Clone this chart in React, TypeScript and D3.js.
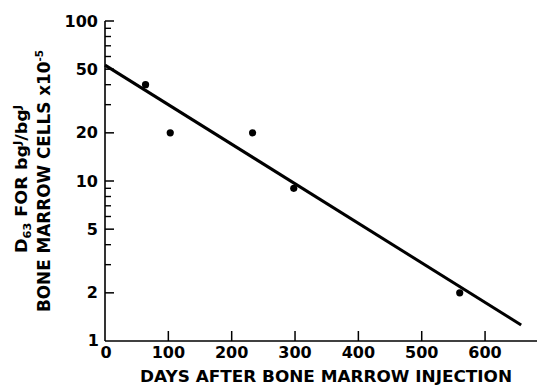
import React from "react";
import * as d3 from "d3";

const days = [64, 103, 233, 298, 560];
const values = [40, 20, 20, 9, 2];
const fitDays = [0, 657];
const fitValues = [53, 1.26];
const xTickValues = [0, 100, 200, 300, 400, 500, 600];
const yMajorTicks = [1, 2, 5, 10, 20, 50, 100];
const yMinorTicks = [3, 4, 6, 7, 8, 9, 30, 40, 60, 70, 80, 90];
const xTitle = "DAYS AFTER BONE MARROW INJECTION";

const W = 537;
const H = 388;
const FONT = "'DejaVu Sans', sans-serif";

export default function App() {
  const x = d3.scaleLinear().domain([0, 682]).range([105, 537]);
  const y = d3.scaleLog().domain([1, 100]).range([341, 21]);
  const line = d3
    .line<number>()
    .x((_, i) => x(fitDays[i]))
    .y((_, i) => y(fitValues[i]));

  return (
    <svg
      width={W}
      height={H}
      style={{ position: "absolute", left: 0, top: 0, background: "#fff" }}
      fontFamily={FONT}
      fontWeight="bold"
    >
      {/* axes */}
      <line x1={x(0)} x2={W} y1={y(1)} y2={y(1)} stroke="#000" strokeWidth={1.6} />
      <line x1={x(0)} x2={x(0)} y1={y(1)} y2={y(100)} stroke="#000" strokeWidth={1.6} />
      {/* y ticks */}
      {yMajorTicks.map((t) => (
        <g key={"ym" + t}>
          {t !== 1 && (
            <line x1={x(0)} x2={x(0) + 9} y1={y(t)} y2={y(t)} stroke="#000" strokeWidth={1.5} />
          )}
          <text
            x={t === 1 ? 99 : 98}
            y={t === 1 ? y(t) - 1 : y(t)}
            textAnchor="end"
            dominantBaseline="central"
            fontSize={16}
          >
            {t}
          </text>
        </g>
      ))}
      {yMinorTicks.map((t) => (
        <line key={"yn" + t} x1={x(0)} x2={x(0) + 6} y1={y(t)} y2={y(t)} stroke="#000" strokeWidth={1.4} />
      ))}
      {/* x ticks */}
      {xTickValues.map((t) => (
        <g key={"x" + t}>
          {t !== 0 && (
            <line x1={x(t)} x2={x(t)} y1={y(1)} y2={y(1) - 10} stroke="#000" strokeWidth={1.5} />
          )}
          <text x={x(t) + (t === 0 ? 1 : 0)} y={358} textAnchor="middle" fontSize={16}>
            {t}
          </text>
        </g>
      ))}
      {/* x title */}
      <text x={140} y={382} fontSize={16} textLength={372} lengthAdjust="spacingAndGlyphs">
        {xTitle}
      </text>
      {/* y title */}
      <g transform="translate(27,179) rotate(-90)">
        <text x={0} y={0} textAnchor="middle" fontSize={16.5} textLength={148} lengthAdjust="spacingAndGlyphs">
          D<tspan fontSize={10.5} dy={4}>63</tspan>
          <tspan dy={-4}> FOR bg</tspan>
          <tspan fontSize={10.5} dy={-6}>J</tspan>
          <tspan dy={6}>/bg</tspan>
          <tspan fontSize={10.5} dy={-6}>J</tspan>
        </text>
      </g>
      <g transform="translate(50,181) rotate(-90)">
        <text x={0} y={0} textAnchor="middle" fontSize={17} textLength={262} lengthAdjust="spacingAndGlyphs">
          BONE MARROW CELLS x10<tspan fontSize={10.5} dy={-7}>-5</tspan>
        </text>
      </g>
      {/* fit line */}
      <path d={line(fitDays) || ""} fill="none" stroke="#000" strokeWidth={3} />
      {/* points */}
      {days.map((d, i) => (
        <circle key={"p" + i} cx={x(d)} cy={y(values[i])} r={3.6} fill="#000" />
      ))}
    </svg>
  );
}
